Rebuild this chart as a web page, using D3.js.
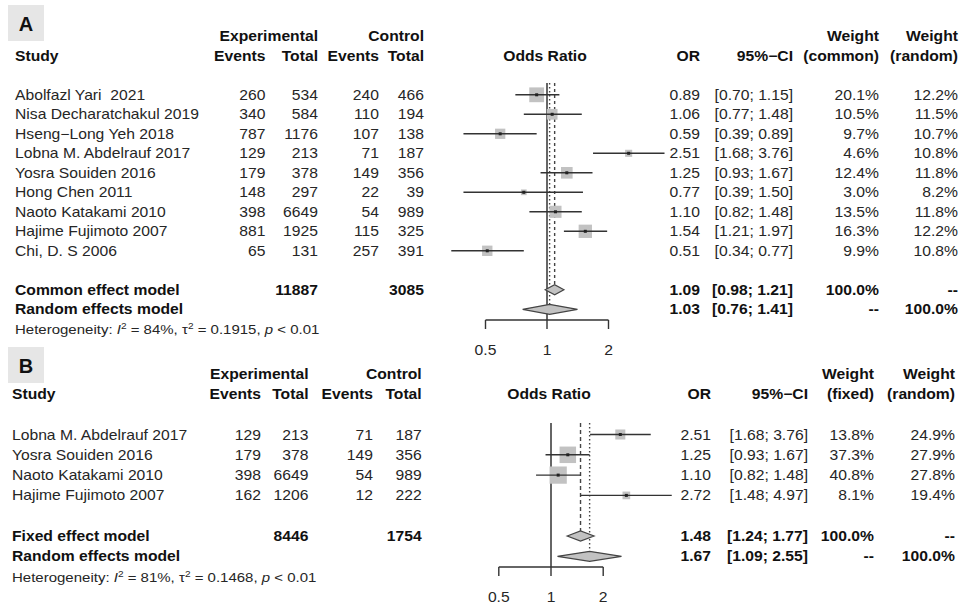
<!DOCTYPE html>
<html><head><meta charset="utf-8">
<script src="https://cdn.jsdelivr.net/npm/d3@7"></script>
<style>
body{margin:0;background:#fff;}
svg{display:block;}
text{font-family:"Liberation Sans",Arial,Helvetica,sans-serif;fill:#222;white-space:pre;}
</style></head><body>
<svg id="c" width="961" height="605"></svg>
<script>
// ---------- Panel A data ----------
const studiesA = ["Abolfazl Yari  2021","Nisa Decharatchakul 2019","Hseng\u2212Long Yeh 2018","Lobna M. Abdelrauf 2017","Yosra Souiden 2016","Hong Chen 2011","Naoto Katakami 2010","Hajime Fujimoto 2007","Chi, D. S 2006"];
const expEventsA = [260,340,787,129,179,148,398,881,65];
const expTotalA = [534,584,1176,213,378,297,6649,1925,131];
const ctrlEventsA = [240,110,107,71,149,22,54,115,257];
const ctrlTotalA = [466,194,138,187,356,39,989,325,391];
const orA = [0.89,1.06,0.59,2.51,1.25,0.77,1.10,1.54,0.51];
const lowerA = [0.70,0.77,0.39,1.68,0.93,0.39,0.82,1.21,0.34];
const upperA = [1.15,1.48,0.89,3.76,1.67,1.50,1.48,1.97,0.77];
const weightCommonA = [20.1,10.5,9.7,4.6,12.4,3.0,13.5,16.3,9.9];
const weightRandomA = [12.2,11.5,10.7,10.8,11.8,8.2,11.8,12.2,10.8];
const summaryLabelsA = ["Common effect model","Random effects model"];
const summaryOrA = [1.09,1.03];
const summaryLowerA = [0.98,0.76];
const summaryUpperA = [1.21,1.41];
const totalsA = [11887,3085];
const heterogeneityA = ["84%","0.1915","0.01"];

// ---------- Panel B data ----------
const studiesB = ["Lobna M. Abdelrauf 2017","Yosra Souiden 2016","Naoto Katakami 2010","Hajime Fujimoto 2007"];
const expEventsB = [129,179,398,162];
const expTotalB = [213,378,6649,1206];
const ctrlEventsB = [71,149,54,12];
const ctrlTotalB = [187,356,989,222];
const orB = [2.51,1.25,1.10,2.72];
const lowerB = [1.68,0.93,0.82,1.48];
const upperB = [3.76,1.67,1.48,4.97];
const weightFixedB = [13.8,37.3,40.8,8.1];
const weightRandomB = [24.9,27.9,27.8,19.4];
const summaryLabelsB = ["Fixed effect model","Random effects model"];
const summaryOrB = [1.48,1.67];
const summaryLowerB = [1.24,1.09];
const summaryUpperB = [1.77,2.55];
const totalsB = [8446,1754];
const heterogeneityB = ["81%","0.1468","0.01"];

const tickValues = [0.5,1,2];
const tickLabels = ["0.5","1","2"];

// ---------- drawing ----------
const svg = d3.select("#c");
const SX = 1.12;
const FS = 14;

function txt(g, x, y, s, anchor, bold, size) {
  return g.append("text")
    .attr("transform", `translate(${x},${y}) scale(${SX},1)`)
    .attr("text-anchor", anchor || "start")
    .attr("font-size", size || FS)
    .attr("font-weight", bold ? "bold" : "normal")
    .style("fill", bold ? "#111" : "#262626")
    .text(s);
}
const f2 = d3.format(".2f");
const f1 = d => d3.format(".1f")(d) + "%";
const ciStr = (l, u) => `[${f2(l)}; ${f2(u)}]`;

function drawPanel(p) {
  const g = svg.append("g");
  const rowY = k => p.y0 + p.dy * k;
  const B = 5; // baseline offset
  const c = p.cols;

  // panel letter
  g.append("rect").attr("x", 8).attr("y", p.boxY).attr("width", 36).attr("height", 36).attr("fill", "#e6e6e6");
  g.append("text").attr("x", 26).attr("y", p.boxY + 26).attr("text-anchor", "middle")
    .attr("font-size", 20).attr("font-weight", "bold").style("fill", "#111").text(p.letter);

  // headers
  const h1 = rowY(-3) + B, h2 = rowY(-2) + B;
  txt(g, c.tot1, h1, "Experimental", "end", true);
  txt(g, c.tot2, h1, "Control", "end", true);
  txt(g, c.w1, h1, "Weight", "end", true);
  txt(g, c.w2, h1, "Weight", "end", true);
  txt(g, c.name, h2, "Study", "start", true);
  txt(g, c.ev1, h2, "Events", "end", true);
  txt(g, c.tot1, h2, "Total", "end", true);
  txt(g, c.ev2, h2, "Events", "end", true);
  txt(g, c.tot2, h2, "Total", "end", true);
  txt(g, c.orHead, h2, "Odds Ratio", "middle", true);
  txt(g, c.or, h2, "OR", "end", true);
  txt(g, c.ci, h2, "95%\u2212CI", "end", true);
  txt(g, c.w1, h2, p.weightHeader, "end", true);
  txt(g, c.w2, h2, "(random)", "end", true);

  const x = d3.scaleLog().domain([0.5, 2]).range(p.xRange);

  // study rows text
  p.studies.forEach((s, i) => {
    const y = rowY(i) + B;
    txt(g, c.name, y, s, "start");
    txt(g, c.ev1, y, String(p.expEvents[i]), "end");
    txt(g, c.tot1, y, String(p.expTotal[i]), "end");
    txt(g, c.ev2, y, String(p.ctrlEvents[i]), "end");
    txt(g, c.tot2, y, String(p.ctrlTotal[i]), "end");
    txt(g, c.or, y, f2(p.or[i]), "end");
    txt(g, c.ci, y, ciStr(p.lower[i], p.upper[i]), "end");
    txt(g, c.w1, y, f1(p.w1[i]), "end");
    txt(g, c.w2, y, f1(p.w2[i]), "end");
  });

  // summary rows
  const sk = p.studies.length + 1;
  p.sumLabels.forEach((s, j) => {
    const y = rowY(sk + j) + B;
    txt(g, c.name, y, s, "start", true);
    if (j === 0) {
      txt(g, c.tot1, y, String(p.totals[0]), "end", true);
      txt(g, c.tot2, y, String(p.totals[1]), "end", true);
    }
    txt(g, c.or, y, f2(p.sumOr[j]), "end", true);
    txt(g, c.ci, y, ciStr(p.sumLo[j], p.sumHi[j]), "end", true);
    txt(g, c.w1, y, j === 0 ? "100.0%" : "--", "end", true);
    txt(g, c.w2, y, j === 0 ? "--" : "100.0%", "end", true);
  });

  // heterogeneity
  const ht = g.append("text")
    .attr("transform", `translate(${c.name},${rowY(sk + 2) + B}) scale(${SX},1)`)
    .attr("font-size", 13.4).style("fill", "#262626");
  ht.append("tspan").text("Heterogeneity: ");
  ht.append("tspan").attr("font-style", "italic").text("I");
  ht.append("tspan").attr("font-size", 9).attr("dy", -5).text("2");
  ht.append("tspan").attr("dy", 5).text(` = ${p.het[0]}, \u03c4`);
  ht.append("tspan").attr("font-size", 9).attr("dy", -5).text("2");
  ht.append("tspan").attr("dy", 5).text(` = ${p.het[1]}, `);
  ht.append("tspan").attr("font-style", "italic").text("p");
  ht.append("tspan").text(` < ${p.het[2]}`);

  // reference & summary lines
  const dh = 5;
  g.append("line").attr("x1", x(1)).attr("x2", x(1)).attr("y1", p.vTop).attr("y2", p.axisY)
    .attr("stroke", "#333").attr("stroke-width", 1.5);
  p.sumOr.forEach((v, j) => {
    g.append("line").attr("x1", x(v)).attr("x2", x(v)).attr("y1", p.vTop).attr("y2", rowY(sk + j) - dh)
      .attr("stroke", "#444").attr("stroke-width", 1.4)
      .attr("stroke-dasharray", j === 0 ? p.dash0 : "1.5,2.5");
  });

  // squares + CIs
  p.studies.forEach((s, i) => {
    const y = rowY(i);
    const side = p.sqK * Math.sqrt(p.w1[i]);
    g.append("rect").attr("x", x(p.or[i]) - side / 2).attr("y", y - side / 2)
      .attr("width", side).attr("height", side).attr("fill", "#c2c2c2");
    g.append("line").attr("x1", x(p.lower[i])).attr("x2", x(p.upper[i])).attr("y1", y).attr("y2", y)
      .attr("stroke", "#333").attr("stroke-width", 1.4);
    g.append("rect").attr("x", x(p.or[i]) - 1.5).attr("y", y - 1.5).attr("width", 3).attr("height", 3)
      .attr("fill", "#222");
  });

  // diamonds
  p.sumOr.forEach((v, j) => {
    const y = rowY(sk + j);
    const pts = [[x(p.sumLo[j]), y], [x(v), y - dh], [x(p.sumHi[j]), y], [x(v), y + dh]];
    g.append("polygon").attr("points", pts.map(d => d.join(",")).join(" "))
      .attr("fill", "#c2c2c2").attr("stroke", "#444").attr("stroke-width", 1.2);
  });

  // axis
  g.append("line").attr("x1", x(0.5)).attr("x2", x(2)).attr("y1", p.axisY).attr("y2", p.axisY)
    .attr("stroke", "#333").attr("stroke-width", 1.4);
  tickValues.forEach((t, i) => {
    g.append("line").attr("x1", x(t)).attr("x2", x(t)).attr("y1", p.axisY).attr("y2", p.axisY + 9)
      .attr("stroke", "#333").attr("stroke-width", 1.4);
    txt(g, x(t), p.labelY + B, tickLabels[i], "middle");
  });
}

drawPanel({
  letter: "A", boxY: 5, y0: 94.8, dy: 19.5,
  cols: {name: 15, ev1: 265.5, tot1: 318, ev2: 379, tot2: 424, orHead: 545, or: 700, ci: 793, w1: 879, w2: 958},
  xRange: [485.5, 608.5], weightHeader: "(common)", sqK: 3.3, axisY: 320, labelY: 350, vTop: 83, dash0: "3,3",
  studies: studiesA, expEvents: expEventsA, expTotal: expTotalA, ctrlEvents: ctrlEventsA, ctrlTotal: ctrlTotalA,
  or: orA, lower: lowerA, upper: upperA, w1: weightCommonA, w2: weightRandomA,
  sumLabels: summaryLabelsA, sumOr: summaryOrA, sumLo: summaryLowerA, sumHi: summaryUpperA,
  totals: totalsA, het: heterogeneityA
});

drawPanel({
  letter: "B", boxY: 347, y0: 434.5, dy: 20.3,
  cols: {name: 12, ev1: 261, tot1: 308.5, ev2: 373, tot2: 421.7, orHead: 549, or: 711, ci: 808, w1: 874, w2: 955},
  xRange: [498.8, 603.2], weightHeader: "(fixed)", sqK: 2.7, axisY: 567, labelY: 597, vTop: 423, dash0: "4,3",
  studies: studiesB, expEvents: expEventsB, expTotal: expTotalB, ctrlEvents: ctrlEventsB, ctrlTotal: ctrlTotalB,
  or: orB, lower: lowerB, upper: upperB, w1: weightFixedB, w2: weightRandomB,
  sumLabels: summaryLabelsB, sumOr: summaryOrB, sumLo: summaryLowerB, sumHi: summaryUpperB,
  totals: totalsB, het: heterogeneityB
});
</script>
</body></html>
